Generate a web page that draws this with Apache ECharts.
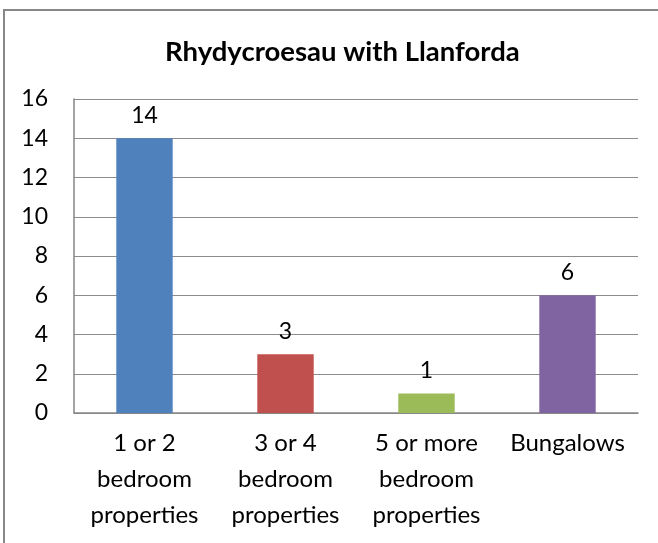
<!DOCTYPE html>
<html>
<head>
<meta charset="utf-8">
<style>
  html, body { margin: 0; padding: 0; background: #ffffff; }
  #chart { width: 658px; height: 543px; }
</style>
<script src="https://cdn.jsdelivr.net/npm/echarts@6/dist/echarts.min.js"></script>
</head>
<body>
<div id="chart"></div>
<script>
// Property counts by type
const categories = ['1 or 2\nbedroom\nproperties', '3 or 4\nbedroom\nproperties', '5 or more\nbedroom\nproperties', 'Bungalows'];
const counts = [14, 3, 1, 6];
const barColors = ['#4F81BD', '#C0504D', '#9BBB59', '#8064A2'];
const yTicks = { min: 0, max: 16, interval: 2 };

const FONT = 'Lato, "Open Sans", sans-serif';

const chart = echarts.init(document.getElementById('chart'), null, { renderer: 'canvas' });

chart.setOption({
  animation: false,
  backgroundColor: '#ffffff',
  title: {
    text: 'Rhydycroesau with Llanforda',
    left: 160,
    top: 33,
    textStyle: { fontFamily: FONT, fontSize: 27.5, fontWeight: 'bold', color: '#000000' }
  },
  graphic: [{
    type: 'rect',
    shape: { x: 4, y: 10, width: 700, height: 600 },
    style: { fill: 'none', stroke: '#878787', lineWidth: 2 },
    silent: true
  }],
  grid: { left: 74, right: 20, top: 99, bottom: 130 },
  xAxis: {
    type: 'category',
    data: categories,
    axisLine: { show: true, lineStyle: { color: '#868686', width: 1.5 } },
    axisTick: { show: false },
    axisLabel: {
      fontFamily: FONT, fontSize: 24, color: '#000000',
      lineHeight: 36, margin: 12, interval: 0
    }
  },
  yAxis: {
    type: 'value',
    min: yTicks.min, max: yTicks.max, interval: yTicks.interval,
    axisLine: { show: true, lineStyle: { color: '#868686', width: 1.5 } },
    axisTick: { show: false },
    splitLine: { show: true, lineStyle: { color: '#8c8c8c', width: 1.2 } },
    axisLabel: { fontFamily: FONT, fontSize: 23, color: '#000000', margin: 26 }
  },
  series: [{
    type: 'bar',
    data: counts.map((v, i) => ({ value: v, itemStyle: { color: barColors[i] } })),
    barWidth: '40%',
    label: {
      show: true, position: 'top', distance: 11,
      fontFamily: FONT, fontSize: 23, color: '#000000'
    }
  }]
});
</script>
</body>
</html>
